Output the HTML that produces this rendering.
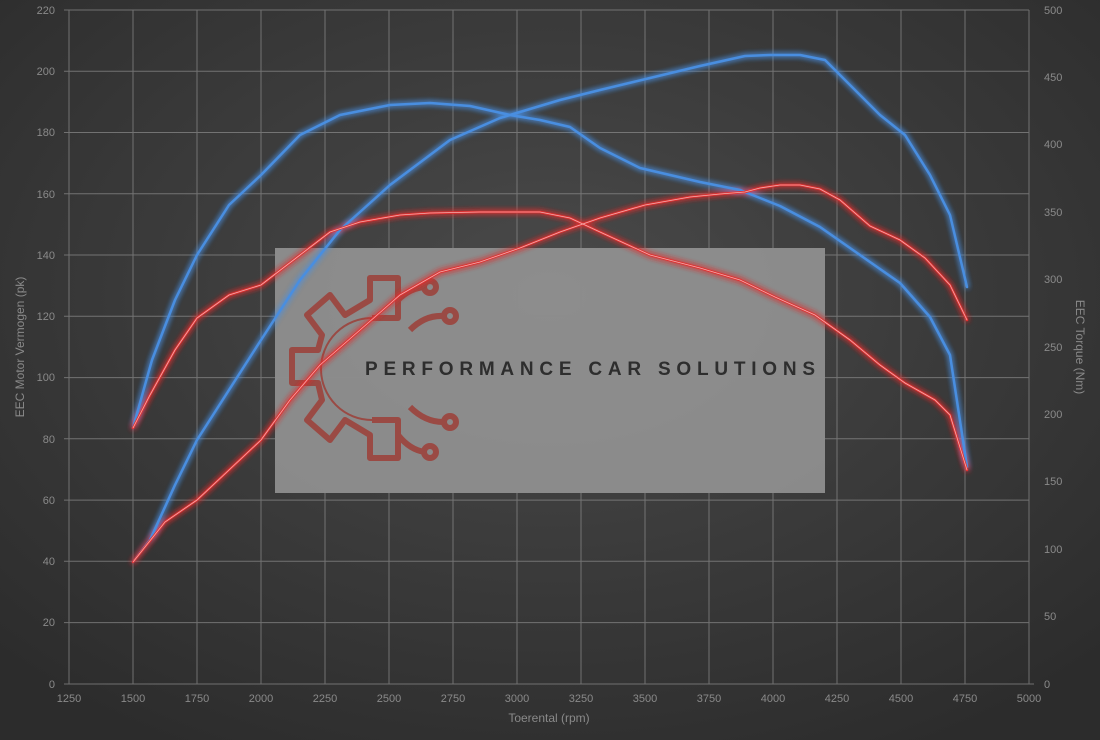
<!DOCTYPE html>
<html><head><meta charset="utf-8"><style>
html,body{margin:0;padding:0;width:1100px;height:740px;overflow:hidden;background:#333}
svg{display:block}
text{font-family:"Liberation Sans",sans-serif;font-size:11px;fill:#8a8a8a}
</style></head><body>
<svg width="1100" height="740" viewBox="0 0 1100 740" xmlns="http://www.w3.org/2000/svg">
<defs>
<radialGradient id="bg" cx="50%" cy="40%" r="70%">
<stop offset="0" stop-color="#4a4a4a"/><stop offset="1" stop-color="#2c2c2c"/>
</radialGradient>
<filter id="glow" x="-10%" y="-10%" width="120%" height="120%">
<feGaussianBlur stdDeviation="3" result="b"/>
<feMerge><feMergeNode in="b"/><feMergeNode in="b"/><feMergeNode in="SourceGraphic"/></feMerge>
</filter>
</defs>
<rect width="1100" height="740" fill="url(#bg)"/>
<rect x="275" y="248" width="550" height="245" fill="#999" opacity="0.85"/>
<g stroke="#8c8c8c" stroke-width="1" opacity="0.7">
<line x1="69" y1="10" x2="69" y2="684"/><line x1="133" y1="10" x2="133" y2="684"/><line x1="197" y1="10" x2="197" y2="684"/><line x1="261" y1="10" x2="261" y2="684"/><line x1="325" y1="10" x2="325" y2="684"/><line x1="389" y1="10" x2="389" y2="684"/><line x1="453" y1="10" x2="453" y2="684"/><line x1="517" y1="10" x2="517" y2="684"/><line x1="581" y1="10" x2="581" y2="684"/><line x1="645" y1="10" x2="645" y2="684"/><line x1="709" y1="10" x2="709" y2="684"/><line x1="773" y1="10" x2="773" y2="684"/><line x1="837" y1="10" x2="837" y2="684"/><line x1="901" y1="10" x2="901" y2="684"/><line x1="965" y1="10" x2="965" y2="684"/><line x1="1029" y1="10" x2="1029" y2="684"/>
<line x1="64" y1="10" x2="1029" y2="10"/><line x1="64" y1="71.3" x2="1029" y2="71.3"/><line x1="64" y1="132.5" x2="1029" y2="132.5"/><line x1="64" y1="193.8" x2="1029" y2="193.8"/><line x1="64" y1="255" x2="1029" y2="255"/><line x1="64" y1="316.3" x2="1029" y2="316.3"/><line x1="64" y1="377.6" x2="1029" y2="377.6"/><line x1="64" y1="438.8" x2="1029" y2="438.8"/><line x1="64" y1="500.1" x2="1029" y2="500.1"/><line x1="64" y1="561.3" x2="1029" y2="561.3"/><line x1="64" y1="622.6" x2="1029" y2="622.6"/><line x1="64" y1="684" x2="1034" y2="684"/>
</g>
<g text-anchor="end">
<text x="55" y="14">220</text><text x="55" y="75">200</text><text x="55" y="136">180</text><text x="55" y="198">160</text><text x="55" y="259">140</text><text x="55" y="320">120</text><text x="55" y="381">100</text><text x="55" y="443">80</text><text x="55" y="504">60</text><text x="55" y="565">40</text><text x="55" y="626">20</text><text x="55" y="688">0</text>
</g>
<g text-anchor="start">
<text x="1044" y="14">500</text><text x="1044" y="81">450</text><text x="1044" y="148">400</text><text x="1044" y="216">350</text><text x="1044" y="283">300</text><text x="1044" y="351">250</text><text x="1044" y="418">200</text><text x="1044" y="485">150</text><text x="1044" y="553">100</text><text x="1044" y="620">50</text><text x="1044" y="688">0</text>
</g>
<g text-anchor="middle">
<text x="69" y="702">1250</text><text x="133" y="702">1500</text><text x="197" y="702">1750</text><text x="261" y="702">2000</text><text x="325" y="702">2250</text><text x="389" y="702">2500</text><text x="453" y="702">2750</text><text x="517" y="702">3000</text><text x="581" y="702">3250</text><text x="645" y="702">3500</text><text x="709" y="702">3750</text><text x="773" y="702">4000</text><text x="837" y="702">4250</text><text x="901" y="702">4500</text><text x="965" y="702">4750</text><text x="1029" y="702">5000</text>
<text x="549" y="722" style="font-size:12px">Toerental (rpm)</text>
<text transform="translate(24,347) rotate(-90)" style="font-size:12px">EEC Motor Vermogen (pk)</text>
<text transform="translate(1076,347) rotate(90)" style="font-size:12px">EEC Torque (Nm)</text>
</g>
<!-- logo -->
<g fill="none" stroke="#9a4a44" stroke-width="6" stroke-linejoin="round">
<path d="M370,280 L370,278 L398,278 L398,318 L372,318 M370,280 L370,300 L345,315 L330,295 L307,315 L322,335 L318,350 L292,350 L292,383 L318,383 L322,400 L307,420 L330,440 L345,420 L370,435 L370,458 L398,458 L398,420 L372,420"/>
<path d="M398,300 Q410,288 425,287" /><circle cx="430" cy="287" r="6"/>
<path d="M410,330 Q425,315 443,316"/><circle cx="450" cy="316" r="6"/>
<path d="M410,407 Q425,422 443,422"/><circle cx="450" cy="422" r="6"/>
<path d="M398,435 Q410,450 425,452"/><circle cx="430" cy="452" r="6"/>
</g>
<path d="M372,318 A50,50 0 0 0 372,420" fill="none" stroke="#9a4a44" stroke-width="2"/>
<text x="365" y="375" textLength="450" style="font-size:19px;font-weight:bold;fill:#2e2e2e">PERFORMANCE CAR SOLUTIONS</text>
<g fill="none" stroke-width="2.5" stroke-linejoin="round" stroke-linecap="round" filter="url(#glow)">
<polyline stroke="#4a8ee0" points="133,428 152,360 175,300 197,255 229,205 261,175 300,135 340,115 390,105 430,103 470,106 510,115 540,120 570,127 600,148 640,168 700,182 740,190 780,206 820,227 870,262 900,283 930,317 950,355 967,467"/>
<polyline stroke="#4a8ee0" points="133,562 150,540 175,485 197,440 229,390 261,340 300,280 340,230 390,185 450,140 500,118 560,100 600,90 650,78 700,66 745,56 770,55 800,55 825,60 850,85 880,115 905,135 930,175 950,215 967,287"/>
<polyline stroke="#e03030" points="133,428 150,395 175,350 197,318 229,295 261,285 300,255 330,232 360,222 400,215 430,213 480,212 540,212 570,218 600,232 650,255 700,268 740,280 775,297 815,315 850,340 880,365 905,383 935,400 950,415 967,470"/>
<polyline stroke="#e03030" points="133,562 165,522 197,500 229,470 261,440 290,400 320,365 360,330 400,295 440,272 480,262 520,248 560,232 600,218 645,205 690,197 720,194 745,192 760,188 780,185 800,185 820,189 840,200 870,226 900,240 925,258 950,285 967,320"/>
</g>
<g fill="none" stroke="#ffffff" stroke-width="0.8" opacity="0.6">
<polyline points="133,428 150,395 175,350 197,318 229,295 261,285 300,255 330,232 360,222 400,215 430,213 480,212 540,212 570,218 600,232 650,255 700,268 740,280 775,297 815,315 850,340 880,365 905,383 935,400 950,415 967,470"/>
<polyline points="133,562 165,522 197,500 229,470 261,440 290,400 320,365 360,330 400,295 440,272 480,262 520,248 560,232 600,218 645,205 690,197 720,194 745,192 760,188 780,185 800,185 820,189 840,200 870,226 900,240 925,258 950,285 967,320"/>
</g>
</svg>
</body></html>
